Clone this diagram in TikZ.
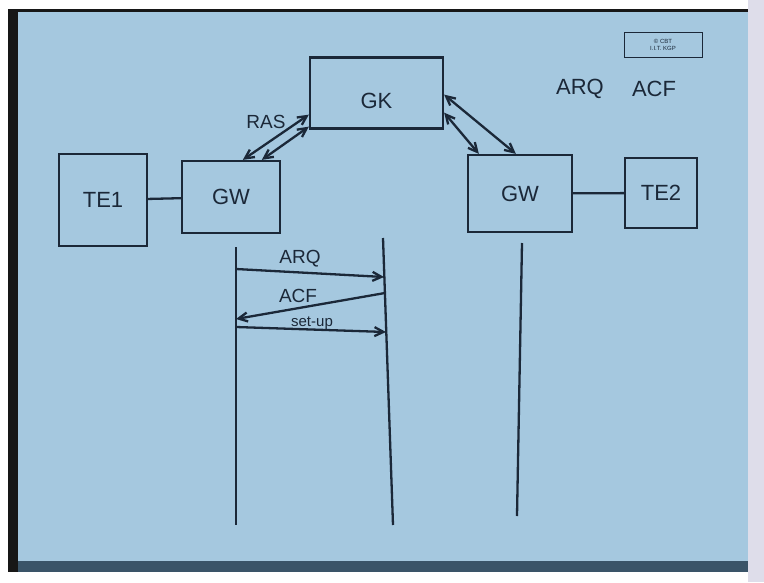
\documentclass[tikz,border=0pt]{standalone}
\usepackage{fontspec}
\setmainfont{Liberation Sans}
\usetikzlibrary{arrows.meta}
\definecolor{paper}{HTML}{A5C8DF}
\definecolor{ink}{HTML}{1B2838}
\definecolor{frame}{HTML}{171717}
\definecolor{edge}{HTML}{3A5468}
\definecolor{margin}{HTML}{DEDDEA}
\begin{document}
\begin{tikzpicture}[x=1pt, y=-1pt,
    box/.style={draw=ink, line width=2.3pt, inner sep=0pt, text=ink,
        font=\fontsize{22}{26}\selectfont},
    lbl/.style={text=ink, inner sep=1pt, font=\fontsize{19}{22}\selectfont},
    wire/.style={draw=ink, line width=2.3pt},
    msg/.style={wire, -{Straight Barb[length=9pt, width=9pt]}},
    dbl/.style={wire, {Straight Barb[length=9pt, width=9pt]}-{Straight Barb[length=9pt, width=9pt]}}]
    % Hintergrund
    \useasboundingbox (0,0) rectangle (764,582);
    \fill[white] (0,0) rectangle (764,582);
    \fill[frame] (8,9) rectangle (748,572);
    \fill[edge] (18,560) rectangle (748,572);
    \fill[paper] (18,12) rectangle (748,561);
    \fill[margin] (748,0) rectangle (764,582);

    % Kasten
    \node[box, minimum width=78pt, minimum height=25pt, line width=1pt,
        font=\fontsize{6}{7}\selectfont, align=center] (cbt) at (663,45) {\textcopyright\ CBT\\I.I.T. KGP};
    \node[box, minimum width=133pt, minimum height=71pt, text height=32pt] (gk) at (376.5,93) {GK};
    \node[box, minimum width=88pt, minimum height=92pt] (te1) at (103,200) {TE1};
    \node[box, minimum width=98pt, minimum height=72pt] (gwl) at (231,197) {GW};
    \node[box, minimum width=104pt, minimum height=77pt] (gwr) at (520,193.5) {GW};
    \node[box, minimum width=72pt, minimum height=70pt] (te2) at (661,193) {TE2};

    % Verbindungen
    \draw[wire] (te1) -- (gwl);
    \draw[wire] (gwr) -- (te2);
    \draw[dbl] ([xshift=62pt]gwl.north west) -- ([yshift=15pt]gk.south west);
    \draw[dbl] ([xshift=81pt]gwl.north west) -- ([yshift=3pt]gk.south west);
    \draw[dbl] ([yshift=35pt]gk.south east) -- ([xshift=49pt]gwr.north west);
    \draw[dbl] ([yshift=17pt]gk.south east) -- ([xshift=12pt]gwr.north west);
    \node[lbl] (ras) at (266,122) {RAS};
    \node[lbl, font=\fontsize{22}{26}\selectfont] (arqt) at (580,89) {ARQ};
    \node[lbl, font=\fontsize{22}{26}\selectfont] (acft) at (654,89) {ACF};

    % Zeitachsen
    \foreach \n/\xa/\ya/\xb/\yb in {a/236/247/236/525, b/383/238/393/525, c/522/243/517/516} {
        \coordinate (\n top) at (\xa,\ya);
        \coordinate (\n bot) at (\xb,\yb);
        \draw[wire] (\n top) -- (\n bot);
    }

    % Nachrichten
    \coordinate (arqa) at (236,269);
    \coordinate (arqb) at (384,277);
    \coordinate (acfb) at (385,293);
    \coordinate (acfa) at (236,319);
    \coordinate (supa) at (236,327);
    \coordinate (supb) at (386,332);
    \draw[msg] (arqa) -- (arqb);
    \draw[msg] (acfb) -- (acfa);
    \draw[msg] (supa) -- (supb);
    \node[lbl] (arql) at (300,259) {ARQ};
    \node[lbl] (acfl) at (298,296) {ACF};
    \node[lbl, font=\fontsize{15}{18}\selectfont] (supl) at (312,323) {set-up};
\end{tikzpicture}
\end{document}
